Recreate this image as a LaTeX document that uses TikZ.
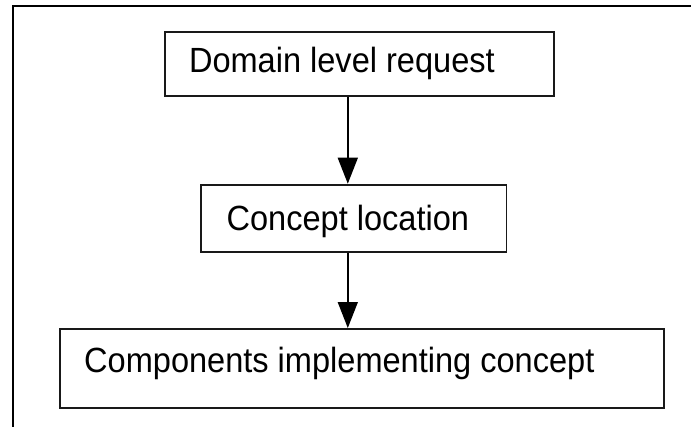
\documentclass[tikz,border=0pt]{standalone}
\usepackage{fontspec}
\setmainfont{Liberation Sans}
\usetikzlibrary{arrows.meta}
\newcommand{\narrowtext}[1]{\scalebox{0.93}[1]{#1}}
\tikzset{
  stage/.style={draw=black!90, line width=1.8pt, inner sep=0pt, anchor=north west},
  lbl/.style={inner sep=0pt, anchor=base west, font=\fontsize{35pt}{40pt}\selectfont},
  flow/.style={line width=1.5pt, -{Triangle[length=26pt,width=20pt]}},
  frame/.style={line width=2.2pt, line cap=rect}
}
\begin{document}
\begin{tikzpicture}[x=1pt,y=-1pt]
  \useasboundingbox (0,0) rectangle (691,426);
  % open frame: left and top edges
  \draw[frame] (13,430) -- (13,6) -- (695,6);
  % stages
  \node[stage, minimum width=389pt, minimum height=64.3pt] (b1) at (164,30.7) {};
  \node[stage, minimum width=305.5pt, minimum height=67pt] (b2) at (200,183.7) {};
  \node[stage, minimum width=604pt, minimum height=79pt] (b3) at (59,328) {};
  % labels
  \node[lbl] (t1) at (188.8,72.6) {\narrowtext{Domain level request}};
  \node[lbl] (t2) at (226.4,230.5) {\narrowtext{Concept location}};
  \node[lbl] (t3) at (84,372.5) {\narrowtext{Components implementing concept}};
  % connectors
  \coordinate (ax) at (347.8,0);
  \draw[flow] (b1.south -| ax) -- (b2.north -| ax);
  \draw[flow] (b2.south -| ax) -- (b3.north -| ax);
\end{tikzpicture}
\end{document}
